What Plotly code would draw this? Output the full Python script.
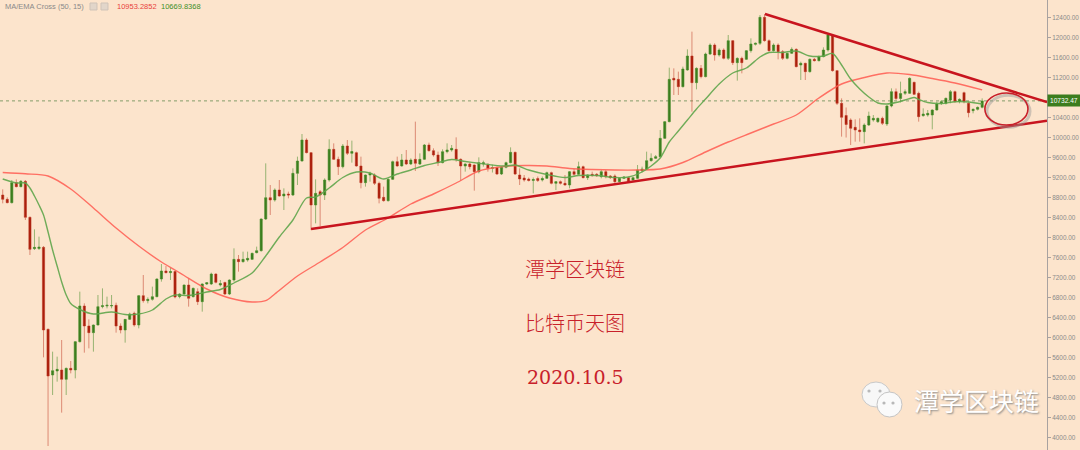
import plotly.graph_objects as go
import pandas as pd

# ---------------- data (daily candles, 2020-03-03 .. 2020-10-05) ----------------
start_date = "2020-03-03"

open_ = [
    8850, 8763, 8697, 9097, 9017, 9123, 8403, 7777, 7780, 7803,
    6163, 5250, 5330, 5350, 5163, 5383, 5350, 5917, 6630, 6230,
    6097, 6250, 6617, 6630, 6630, 6643, 6230, 6150, 6363, 6483,
    6250, 6837, 6737, 6763, 6817, 7170, 7330, 7297, 7320, 6817,
    6870, 7050, 6817, 6917, 6717, 7070, 7070, 7270, 7050, 7100,
    6870, 7150, 7563, 7517, 7550, 7563, 7697, 7737, 8370, 8797,
    8750, 8950, 8830, 8870, 8850, 9283, 9530, 9950, 9697, 8650,
    8917, 8850, 9150, 9763, 9563, 9417, 9830, 9683, 9697, 9430,
    9097, 9250, 9250, 9083, 8803, 8737, 9163, 9517, 9430, 9550,
    9470, 9563, 9470, 9563, 9850, 9737, 9650, 9497, 9717, 9750,
    9763, 9563, 9430, 9470, 9450, 9317, 9470, 9450, 9380, 9400,
    9270, 9403, 9497, 9703, 9250, 9190, 9170, 9140, 9180, 9150,
    9183, 9297, 9083, 9117, 9083, 9050, 9317, 9263, 9417, 9197,
    9263, 9263, 9217, 9317, 9230, 9230, 9117, 9183, 9197, 9150,
    9183, 9330, 9370, 9537, 9583, 9617, 9983, 10317, 11183, 11163,
    11017, 11350, 11630, 11097, 11383, 11217, 11670, 11850, 11650, 11750,
    11583, 11937, 11497, 11583, 11563, 11737, 11863, 11883, 12403, 11937,
    11737, 11850, 11717, 11583, 11683, 11763, 11450, 11483, 11317, 11563,
    11537, 11617, 11750, 12030, 11337, 10683, 10440, 10350, 10203, 10150,
    10117, 10250, 10350, 10317, 10383, 10270, 10630, 10917, 10780, 10883,
    10883, 11103, 10883, 10437, 10450, 10450, 10550, 10683, 10683, 10750,
    10917, 10717, 10897, 10683, 10537, 10563, 10603,
]
high_ = [
    8963, 8803, 9150, 9163, 9150, 9150, 8420, 8163, 8017, 7830,
    6180, 5717, 5617, 5950, 5400, 5530, 5930, 6917, 6683, 6363,
    6260, 6850, 6983, 6817, 6850, 6697, 6283, 6370, 6497, 6517,
    6850, 7250, 6803, 7017, 7183, 7470, 7430, 7397, 7340, 6883,
    7060, 7183, 7000, 6983, 7083, 7110, 7297, 7283, 7150, 7117,
    7163, 7783, 7650, 7717, 7717, 7697, 7817, 8383, 9483, 9050,
    8983, 9150, 8983, 8917, 9383, 9617, 10070, 9983, 9710, 9163,
    8950, 9183, 9963, 9883, 9617, 9870, 9950, 9937, 9717, 9617,
    9260, 9317, 9283, 9117, 9017, 9183, 9537, 9617, 9670, 9750,
    9583, 10317, 9683, 9870, 9897, 9783, 9717, 9763, 9883, 9850,
    10003, 9583, 9483, 9497, 9460, 9603, 9537, 9483, 9450, 9417,
    9417, 9517, 9803, 9717, 9383, 9250, 9200, 9200, 9220, 9220,
    9317, 9317, 9130, 9140, 9250, 9330, 9370, 9517, 9437, 9263,
    9317, 9290, 9350, 9350, 9250, 9263, 9197, 9230, 9217, 9217,
    9450, 9417, 9717, 9683, 9650, 10150, 10330, 11397, 11383, 11317,
    11417, 11763, 12117, 11403, 11450, 11697, 11883, 11883, 11783, 11783,
    12050, 11950, 11603, 11617, 11750, 11983, 11900, 12450, 12470, 11963,
    11883, 11883, 11750, 11697, 11803, 11783, 11517, 11497, 11583, 11590,
    11640, 11803, 12070, 12050, 11350, 10783, 10600, 10383, 10363, 10383,
    10283, 10517, 10450, 10400, 10417, 10650, 10983, 10980, 11117, 10963,
    11203, 11117, 10917, 10583, 10550, 10563, 10717, 10750, 10800, 10950,
    10937, 10783, 10917, 10717, 10583, 10620, 10783,
]
low_ = [
    8683, 8683, 8680, 9003, 9003, 8350, 7650, 7750, 7750, 5603,
    3830, 4850, 5117, 4497, 4850, 5283, 5183, 5900, 5697, 5783,
    5717, 6240, 6583, 6583, 6583, 6097, 6083, 5897, 6350, 6217,
    6183, 6697, 6683, 6737, 6803, 7117, 7283, 7150, 6783, 6783,
    6850, 6617, 6800, 6650, 6517, 7050, 7050, 7083, 7020, 6850,
    6850, 7117, 7317, 7497, 7517, 7550, 7683, 7717, 8350, 8450,
    8717, 8817, 8550, 8783, 8830, 9050, 9517, 9683, 8150, 8283,
    8230, 8750, 9117, 9550, 9250, 9383, 9650, 9497, 9417, 8983,
    9017, 9117, 9050, 8683, 8717, 8717, 9150, 9417, 9417, 9450,
    9450, 9330, 9450, 9550, 9717, 9617, 9430, 9483, 9683, 9717,
    9517, 9137, 9317, 9363, 8937, 9283, 9417, 9317, 9300, 9250,
    9250, 9383, 9483, 9250, 9050, 9117, 9120, 8883, 9110, 9120,
    9170, 9063, 8950, 9060, 9037, 8983, 9237, 9250, 9183, 9150,
    9217, 9210, 9183, 9183, 9170, 9083, 9103, 9170, 9103, 9137,
    9170, 9303, 9350, 9517, 9570, 9597, 9970, 10303, 10850, 10850,
    11000, 11337, 10517, 10963, 11183, 11203, 11650, 11537, 11617, 11563,
    11550, 11450, 11137, 11283, 11550, 11697, 11840, 11850, 11917, 11717,
    11717, 11563, 11550, 11563, 11670, 11403, 11150, 11150, 11297, 11520,
    11520, 11603, 11717, 11317, 10650, 10017, 10000, 9850, 9917, 9917,
    9883, 10230, 10317, 10290, 10250, 10230, 10603, 10750, 10700, 10850,
    10870, 10850, 10317, 10417, 10417, 10163, 10537, 10650, 10660, 10683,
    10697, 10683, 10683, 10403, 10483, 10540, 10583,
]
close_ = [
    8763, 8697, 9097, 9017, 9123, 8403, 7763, 7803, 7810, 6150,
    5230, 5337, 5363, 5163, 5383, 5350, 5917, 6630, 6230, 6097,
    6250, 6617, 6637, 6645, 6640, 6230, 6150, 6363, 6470, 6250,
    6837, 6737, 6763, 6817, 7170, 7330, 7297, 7320, 6810, 6870,
    7050, 6783, 6983, 6717, 7070, 7097, 7270, 7103, 7080, 6870,
    7150, 7563, 7517, 7563, 7583, 7683, 7737, 8370, 8797, 8750,
    8950, 8830, 8870, 8850, 9283, 9530, 9950, 9697, 8650, 8883,
    8850, 9150, 9763, 9563, 9417, 9830, 9683, 9720, 9430, 9097,
    9250, 9283, 9083, 8783, 8737, 9163, 9517, 9430, 9550, 9470,
    9550, 9483, 9563, 9850, 9737, 9650, 9497, 9717, 9750, 9783,
    9563, 9430, 9470, 9417, 9317, 9497, 9497, 9380, 9400, 9270,
    9403, 9497, 9703, 9270, 9170, 9150, 9140, 9160, 9140, 9180,
    9297, 9083, 9117, 9083, 9050, 9317, 9263, 9417, 9197, 9250,
    9237, 9237, 9317, 9217, 9197, 9117, 9183, 9210, 9117, 9197,
    9350, 9370, 9537, 9583, 9617, 9983, 10317, 11163, 11150, 11017,
    11370, 11630, 11097, 11383, 11217, 11670, 11850, 11650, 11750, 11583,
    11937, 11497, 11583, 11497, 11737, 11870, 11883, 12403, 11937, 11737,
    11850, 11717, 11583, 11683, 11763, 11417, 11483, 11317, 11563, 11537,
    11617, 11750, 12050, 11337, 10683, 10403, 10260, 10183, 10150, 10117,
    10250, 10430, 10383, 10383, 10283, 10630, 10917, 10780, 10880, 10917,
    11183, 10863, 10417, 10470, 10483, 10550, 10670, 10717, 10783, 10917,
    10717, 10763, 10717, 10497, 10563, 10603, 10732,
]

# MA(50) (red) and EMA(15) (green): day offset -> value
ma50_day = [0, 5, 10, 15, 20, 25, 30, 35, 38, 40, 45, 50, 55, 58, 60, 65, 70, 75,
            80, 85, 90, 95, 100, 105, 110, 115, 120, 125, 130, 135, 140, 145, 150,
            155, 160, 165, 170, 175, 180, 185, 190, 195, 200, 205, 210, 216]
ma50_val = [9300, 9274, 9230, 8970, 8590, 8190, 7830, 7510, 7350, 7240, 6970, 6790,
            6710, 6736, 6870, 7230, 7510, 7800, 8150, 8390, 8670, 8870, 9090, 9330,
            9416, 9440, 9430, 9380, 9360, 9350, 9350, 9370, 9500, 9710, 9910, 10090,
            10270, 10450, 10790, 11070, 11200, 11290, 11260, 11180, 11090, 10953]

ema15_day = [0, 3, 5, 6, 7, 8, 9, 10, 11, 12, 13, 14, 15, 17, 20, 24, 27, 30, 33,
             36, 38, 41, 45, 48, 51, 55, 58, 61, 64, 67, 69, 72, 75, 78, 81, 84, 87,
             90, 93, 96, 99, 102, 105, 108, 111, 113, 116, 120, 124, 127, 131, 135,
             138, 141, 143, 145, 147, 149, 151, 153, 155, 158, 161, 164, 167, 169,
             172, 175, 178, 181, 183, 185, 187, 189, 191, 193, 195, 197, 199, 201,
             202, 204, 207, 210, 213, 216]
ema15_val = [9170, 9090, 9090, 8990, 8830, 8650, 8450, 8110, 7750, 7430, 7110, 6850,
             6680, 6560, 6470, 6510, 6460, 6470, 6550, 6770, 6850, 6840, 6910, 6960,
             7090, 7290, 7630, 8010, 8350, 8790, 8810, 8990, 9200, 9310, 9290, 9170,
             9270, 9350, 9440, 9500, 9560, 9520, 9484, 9450, 9430, 9450, 9350, 9260,
             9200, 9240, 9240, 9200, 9210, 9310, 9430, 9590, 9910, 10130, 10350,
             10570, 10770, 11070, 11290, 11390, 11610, 11700, 11700, 11730, 11630,
             11630, 11680, 11450, 11170, 10970, 10810, 10690, 10670, 10700, 10750,
             10800, 10760, 10700, 10680, 10716, 10710, 10670]

# hand-drawn trend lines: (day offset, price)
trend_upper = [(168.1, 12470), (230.3, 10707)]
trend_lower = [(68.0, 8170), (230.3, 10337)]
# hand-drawn ellipse: day range and price range
circle_days = (216.6, 226.1)
circle_prices = (10250, 10890)

last_price = 10732.47
ma_label = "10953.2852"
ema_label = "10669.8368"
y_ticks = list(range(4000, 13201, 400))

title_lines = ["潭学区块链", "比特币天图", "2020.10.5"]
watermark = "潭学区块链"

# ---------------- figure ----------------
start = pd.Timestamp(start_date)


def day(n):
    return start + pd.Timedelta(days=n)


dates = [day(i) for i in range(len(close_))]

BG = "#FCE4CC"
GREEN_BODY = "#3C7D1E"
RED_BODY = "#A91F0C"
TREND = "#C8141E"

fig = go.Figure()

fig.add_trace(go.Candlestick(
    x=dates, open=open_, high=high_, low=low_, close=close_,
    increasing=dict(line=dict(color="rgba(70,140,40,0.55)", width=1),
                    fillcolor=GREEN_BODY),
    decreasing=dict(line=dict(color="rgba(190,50,30,0.5)", width=1),
                    fillcolor=RED_BODY),
    whiskerwidth=0, showlegend=False, hoverinfo="skip",
))

fig.add_trace(go.Scatter(
    x=[day(d) for d in ma50_day], y=ma50_val, mode="lines",
    line=dict(color="rgba(255,90,80,0.85)", width=1.4, shape="spline", smoothing=0.8),
    showlegend=False, hoverinfo="skip",
))
fig.add_trace(go.Scatter(
    x=[day(d) for d in ema15_day], y=ema15_val, mode="lines",
    line=dict(color="rgba(95,165,75,0.9)", width=1.4, shape="spline", smoothing=0.8),
    showlegend=False, hoverinfo="skip",
))

shapes = []
# current price dotted line
shapes.append(dict(type="line", xref="paper", yref="y", x0=0, x1=1,
                   y0=last_price, y1=last_price,
                   line=dict(color="rgba(120,150,95,0.9)", width=1, dash="dot"),
                   layer="below"))
# trend lines
for tl in (trend_upper, trend_lower):
    shapes.append(dict(type="line", xref="x", yref="y",
                       x0=day(tl[0][0]), y0=tl[0][1], x1=day(tl[1][0]), y1=tl[1][1],
                       line=dict(color=TREND, width=2.5)))
# ellipse shadow + ellipse
shapes.append(dict(type="circle", xref="x", yref="y",
                   x0=day(circle_days[0] + 0.45), x1=day(circle_days[1] + 0.45),
                   y0=circle_prices[0] - 45, y1=circle_prices[1] - 45,
                   line=dict(color="rgba(150,150,150,0.45)", width=3)))
shapes.append(dict(type="circle", xref="x", yref="y",
                   x0=day(circle_days[0]), x1=day(circle_days[1]),
                   y0=circle_prices[0], y1=circle_prices[1],
                   line=dict(color="#C8202A", width=1.6)))

PW = 1047.0
H = 450.0


def px(x):
    return x / PW


def py(y):
    return 1 - y / H


# legend icon boxes
for x0 in (90, 101):
    shapes.append(dict(type="rect", xref="paper", yref="paper",
                       x0=px(x0), x1=px(x0 + 7), y0=py(10), y1=py(3),
                       fillcolor="#E2D6CA", line=dict(color="#CFC3B8", width=1)))
# wechat-like icon
shapes.append(dict(type="circle", xref="paper", yref="paper",
                   x0=px(862), x1=px(890), y0=py(407), y1=py(382),
                   fillcolor="#F7F7F7", line=dict(color="#C9C9C9", width=1)))
shapes.append(dict(type="circle", xref="paper", yref="paper",
                   x0=px(877), x1=px(902), y0=py(417), y1=py(392),
                   fillcolor="#FAFAFA", line=dict(color="#C4C4C4", width=1)))
for cx, cy in ((869, 391), (880, 391), (884, 403), (893, 403)):
    shapes.append(dict(type="circle", xref="paper", yref="paper",
                       x0=px(cx - 1.6), x1=px(cx + 1.6), y0=py(cy + 1.6), y1=py(cy - 1.6),
                       fillcolor="#B8B8B8", line=dict(width=0)))

annotations = []
annotations.append(dict(xref="paper", yref="paper", x=px(3), y=py(7),
                        xanchor="left", yanchor="middle", showarrow=False,
                        text="MA/EMA Cross (50, 15)",
                        font=dict(family="Liberation Sans, Arial", size=7.5, color="#8A8A8A")))
annotations.append(dict(xref="paper", yref="paper", x=px(115), y=py(7),
                        xanchor="left", yanchor="middle", showarrow=False,
                        text=ma_label,
                        font=dict(family="Liberation Sans, Arial", size=7.5, color="#E8413C")))
annotations.append(dict(xref="paper", yref="paper", x=px(159), y=py(7),
                        xanchor="left", yanchor="middle", showarrow=False,
                        text=ema_label,
                        font=dict(family="Liberation Sans, Arial", size=7.5, color="#3F8F2A")))
# price label
annotations.append(dict(xref="paper", yref="y", x=1, y=last_price,
                        xanchor="left", yanchor="middle", showarrow=False,
                        text=f"{last_price:.2f}", bgcolor="#3C7D1E", borderpad=2,
                        font=dict(family="Liberation Sans, Arial", size=6.6, color="white")))
# centre texts
for txt, yy in zip(title_lines, (268, 322, 377)):
    is_num = txt[0].isdigit()
    fam = "DejaVu Serif, Liberation Serif" if is_num else "Noto Sans CJK SC"
    annotations.append(dict(xref="paper", yref="paper", x=px(575), y=py(yy),
                            xanchor="center", yanchor="middle", showarrow=False,
                            text=txt,
                            font=dict(family=fam, size=19 if is_num else 20,
                                      color="#C8202A", weight=300)))
# watermark
annotations.append(dict(xref="paper", yref="paper", x=px(976), y=py(400),
                        xanchor="center", yanchor="middle", showarrow=False,
                        text=watermark,
                        font=dict(family="Noto Sans CJK SC", size=25, color="white",
                                  shadow="1px 1px 2px #8A8A8A")))

fig.update_layout(
    width=1080, height=450,
    margin=dict(l=0, r=33, t=0, b=0, autoexpand=False),
    paper_bgcolor=BG, plot_bgcolor=BG,
    shapes=shapes, annotations=annotations,
    showlegend=False,
    xaxis=dict(range=[day(-0.6), day(230.3)], visible=False,
               rangeslider=dict(visible=False), showgrid=False),
    yaxis=dict(range=[3750, 12750], side="right", showgrid=False, zeroline=False,
               automargin=False,
               showline=True, linecolor="#A8A2A0", linewidth=1,
               ticks="outside", ticklen=3, tickcolor="#A8A2A0",
               tickvals=y_ticks, ticktext=[f"{v:.2f}" for v in y_ticks],
               tickfont=dict(family="Liberation Sans, Arial", size=6.4, color="#8A8A8A")),
)

fig.write_html(
    "out.html",
    config={"displayModeBar": False, "staticPlot": True},
    post_script="document.body.style.margin='0';document.body.style.padding='0';"
                "document.body.style.overflow='hidden';",
)
